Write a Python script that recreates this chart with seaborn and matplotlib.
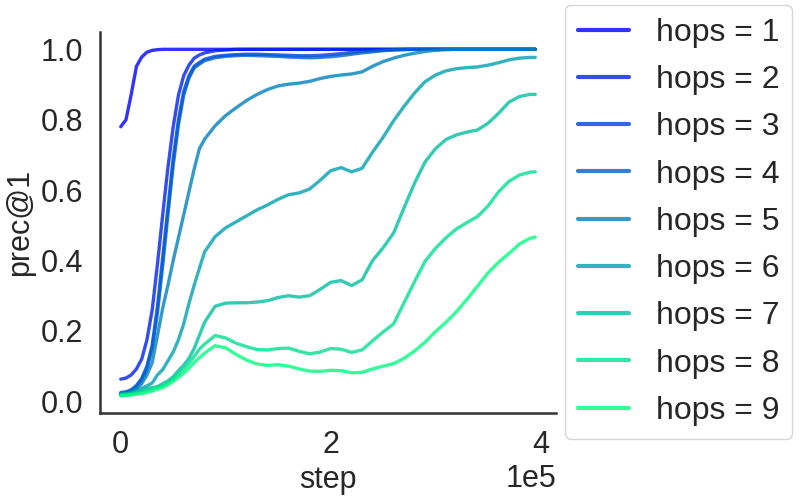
import numpy as np
import pandas as pd
import matplotlib
matplotlib.use("Agg")
import matplotlib.pyplot as plt
import seaborn as sns

sns.set_theme(style="white")
plt.rcParams['font.family'] = ['Liberation Sans', 'DejaVu Sans']

# training step, in units of 1e4
steps = [0, 0.5, 1, 1.5, 2, 2.5, 3, 3.5, 4, 4.5, 5, 5.5, 6, 6.5, 7, 7.5,
         8, 9, 10, 11, 12, 13, 14, 15, 16, 17, 18, 19, 20, 21, 22, 23,
         24, 25, 26, 27, 28, 29, 30, 31, 32, 33, 34, 35, 36, 37, 38, 39, 39.5]

hops_1 = [0.78, 0.80, 0.872, 0.952, 0.978, 0.992, 0.997, 0.999, 1.0, 1.0, 1.0, 1.0, 1.0, 1.0, 1.0, 1.0,
          1.0, 1.0, 1.0, 1.0, 1.0, 1.0, 1.0, 1.0, 1.0, 1.0, 1.0, 1.0, 1.0, 1.0, 1.0, 1.0,
          1.0, 1.0, 1.0, 1.0, 1.0, 1.0, 1.0, 1.0, 1.0, 1.0, 1.0, 1.0, 1.0, 1.0, 1.0, 1.0, 1.0]
hops_2 = [0.063, 0.066, 0.075, 0.092, 0.12, 0.175, 0.26, 0.39, 0.53, 0.665, 0.78, 0.87, 0.925, 0.955, 0.975, 0.984,
          0.99, 0.996, 0.998, 1.0, 1.0, 1.0, 1.0, 1.0, 1.0, 1.0, 1.0, 1.0, 1.0, 1.0, 1.0, 1.0,
          1.0, 1.0, 1.0, 1.0, 1.0, 1.0, 1.0, 1.0, 1.0, 1.0, 1.0, 1.0, 1.0, 1.0, 1.0, 1.0, 1.0]
hops_3 = [0.025, 0.027, 0.033, 0.045, 0.065, 0.10, 0.16, 0.27, 0.41, 0.55, 0.69, 0.80, 0.88, 0.925, 0.952, 0.963,
          0.972, 0.98, 0.983, 0.985, 0.986, 0.986, 0.985, 0.984, 0.983, 0.982, 0.982, 0.983, 0.985, 0.988, 0.991, 0.994,
          0.996, 0.998, 0.999, 1.0, 1.0, 1.0, 1.0, 1.0, 1.0, 1.0, 1.0, 1.0, 1.0, 1.0, 1.0, 1.0, 1.0]
hops_4 = [0.022, 0.024, 0.03, 0.041, 0.06, 0.092, 0.15, 0.25, 0.385, 0.53, 0.67, 0.785, 0.87, 0.918, 0.947, 0.958,
          0.968, 0.976, 0.98, 0.982, 0.983, 0.982, 0.981, 0.98, 0.978, 0.977, 0.976, 0.977, 0.979, 0.982, 0.986, 0.99,
          0.993, 0.996, 0.998, 0.999, 1.0, 1.0, 1.0, 1.0, 1.0, 1.0, 1.0, 1.0, 1.0, 1.0, 1.0, 1.0, 1.0]
hops_5 = [0.022, 0.023, 0.027, 0.036, 0.05, 0.075, 0.11, 0.187, 0.265, 0.33, 0.40, 0.465, 0.53, 0.595, 0.66, 0.718,
          0.745, 0.783, 0.812, 0.834, 0.855, 0.872, 0.886, 0.896, 0.901, 0.904, 0.909, 0.917, 0.923, 0.927, 0.93, 0.936,
          0.952, 0.965, 0.975, 0.983, 0.989, 0.994, 0.997, 0.999, 1.0, 1.0, 1.0, 1.0, 1.0, 1.0, 1.0, 1.0, 1.0]
hops_6 = [0.02, 0.021, 0.024, 0.03, 0.037, 0.044, 0.052, 0.075, 0.09, 0.115, 0.14, 0.175, 0.22, 0.278, 0.33, 0.378,
          0.425, 0.468, 0.493, 0.51, 0.527, 0.544, 0.558, 0.574, 0.587, 0.592, 0.603, 0.628, 0.655, 0.664, 0.652, 0.662,
          0.708, 0.75, 0.797, 0.838, 0.876, 0.908, 0.927, 0.939, 0.945, 0.948, 0.95, 0.955, 0.962, 0.97, 0.975, 0.977, 0.977]
hops_7 = [0.019, 0.02, 0.022, 0.026, 0.031, 0.036, 0.039, 0.042, 0.05, 0.058, 0.07, 0.087, 0.103, 0.122, 0.15, 0.188,
          0.225, 0.27, 0.279, 0.28, 0.28, 0.282, 0.286, 0.295, 0.3, 0.296, 0.3, 0.318, 0.338, 0.343, 0.329, 0.345,
          0.40, 0.436, 0.478, 0.55, 0.62, 0.68, 0.718, 0.744, 0.757, 0.765, 0.771, 0.79, 0.818, 0.85, 0.866, 0.872, 0.872]
hops_8 = [0.017, 0.018, 0.02, 0.023, 0.027, 0.031, 0.035, 0.039, 0.044, 0.052, 0.063, 0.077, 0.092, 0.108, 0.128, 0.148,
          0.163, 0.187, 0.18, 0.165, 0.155, 0.147, 0.146, 0.15, 0.151, 0.142, 0.135, 0.14, 0.15, 0.148, 0.139, 0.146,
          0.172, 0.197, 0.22, 0.28, 0.34, 0.398, 0.435, 0.465, 0.49, 0.508, 0.525, 0.555, 0.595, 0.625, 0.643, 0.651, 0.652]
hops_9 = [0.016, 0.017, 0.018, 0.02, 0.022, 0.025, 0.029, 0.034, 0.039, 0.047, 0.057, 0.068, 0.08, 0.094, 0.11, 0.124,
          0.137, 0.158, 0.152, 0.133, 0.117, 0.106, 0.102, 0.104, 0.1, 0.092, 0.086, 0.085, 0.088, 0.087, 0.081, 0.082,
          0.092, 0.1, 0.107, 0.122, 0.143, 0.168, 0.198, 0.225, 0.255, 0.29, 0.327, 0.365, 0.395, 0.42, 0.447, 0.463, 0.467]

series = [hops_1, hops_2, hops_3, hops_4, hops_5, hops_6, hops_7, hops_8, hops_9]
labels = [f"hops = {i}" for i in range(1, 10)]

wide = pd.DataFrame({lab: vals for lab, vals in zip(labels, series)})
wide["step"] = np.array(steps) * 1e4
df = wide.melt(id_vars="step", var_name="hops", value_name="prec@1")

palette = [plt.cm.winter(v) for v in np.linspace(0, 1, 9)]

fig = plt.figure(figsize=(8, 5), dpi=100)
ax = fig.add_axes([0.125, 0.174, 0.57, 0.762])
sns.lineplot(data=df, x="step", y="prec@1", hue="hops", palette=palette,
             lw=2.4, alpha=0.8, ax=ax)
sns.despine(ax=ax)
for s in ["left", "bottom"]:
    ax.spines[s].set_color("#333333")
    ax.spines[s].set_linewidth(1.8)

ax.set_xticks([0, 2e5, 4e5])
ax.ticklabel_format(axis="x", style="sci", scilimits=(0, 0))
ax.set_yticks([0.0, 0.2, 0.4, 0.6, 0.8, 1.0])
ax.tick_params(labelsize=22, pad=6, colors="#262626")
ax.xaxis.get_offset_text().set_fontsize(22)
ax.set_xlabel("step", fontsize=22, color="#262626")
ax.set_ylabel("prec@1", fontsize=22, color="#262626")

sns.move_legend(ax, "upper left", bbox_to_anchor=(0.706, 0.99),
                bbox_transform=fig.transFigure, borderaxespad=0,
                title=None, frameon=True, fontsize=23,
                handlelength=1.6, handletextpad=0.85, labelspacing=0.54)
for h in ax.get_legend().get_lines():
    h.set_linewidth(3)
    h.set_alpha(0.8)

fig.savefig("out.png", dpi=100)
